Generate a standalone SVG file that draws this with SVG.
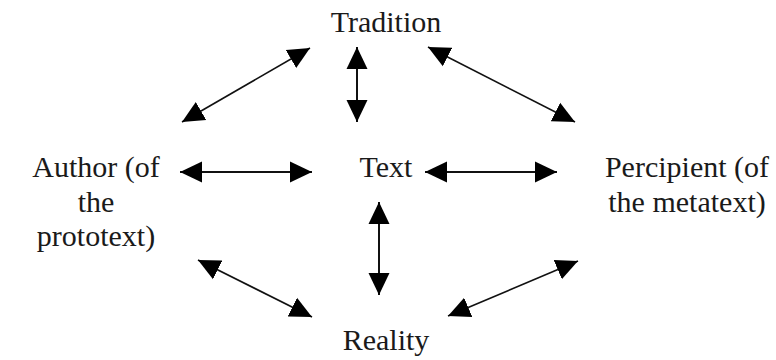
<svg xmlns="http://www.w3.org/2000/svg" width="776" height="360" viewBox="0 0 776 360">
  <style>
    .lbl { font-family: "Liberation Serif", "Times New Roman", serif; font-size: 30px; fill: #1a1a1a; text-anchor: middle; }
    .con { stroke: #111; stroke-width: 2; fill: none; marker-start: url(#ah); marker-end: url(#ah); }
    .diag { stroke-width: 1.6; }
  </style>
  <defs>
    <marker id="ah" markerUnits="userSpaceOnUse" markerWidth="23" markerHeight="22" refX="22" refY="10.5" orient="auto-start-reverse" viewBox="0 0 23 21">
      <path d="M0,0 L22,10.5 L0,21 Z" fill="#000"/>
    </marker>
  </defs>
  <rect width="776" height="360" fill="#fff"/>
  <g id="tradition"><text class="lbl" x="386" y="32">Tradition</text></g>
  <g id="text"><text class="lbl" x="386" y="177">Text</text></g>
  <g id="author">
    <text class="lbl" x="96" y="177">Author (of</text>
    <text class="lbl" x="96" y="212">the</text>
    <text class="lbl" x="96" y="246">prototext)</text>
  </g>
  <g id="percipient">
    <text class="lbl" x="687" y="177">Percipient (of</text>
    <text class="lbl" x="687" y="212">the metatext)</text>
  </g>
  <g id="reality"><text class="lbl" x="386" y="350">Reality</text></g>
  <g id="connectors">
    <line class="con diag" x1="182" y1="122" x2="310" y2="48"/>
    <line class="con" x1="357" y1="47" x2="357" y2="122"/>
    <line class="con diag" x1="428" y1="47" x2="575" y2="122"/>
    <line class="con" x1="180" y1="172" x2="312" y2="172"/>
    <line class="con" x1="425" y1="172" x2="557" y2="172"/>
    <line class="con" x1="379" y1="202" x2="379" y2="295"/>
    <line class="con diag" x1="198" y1="260" x2="312" y2="317"/>
    <line class="con diag" x1="448" y1="316" x2="578" y2="261"/>
  </g>
</svg>
